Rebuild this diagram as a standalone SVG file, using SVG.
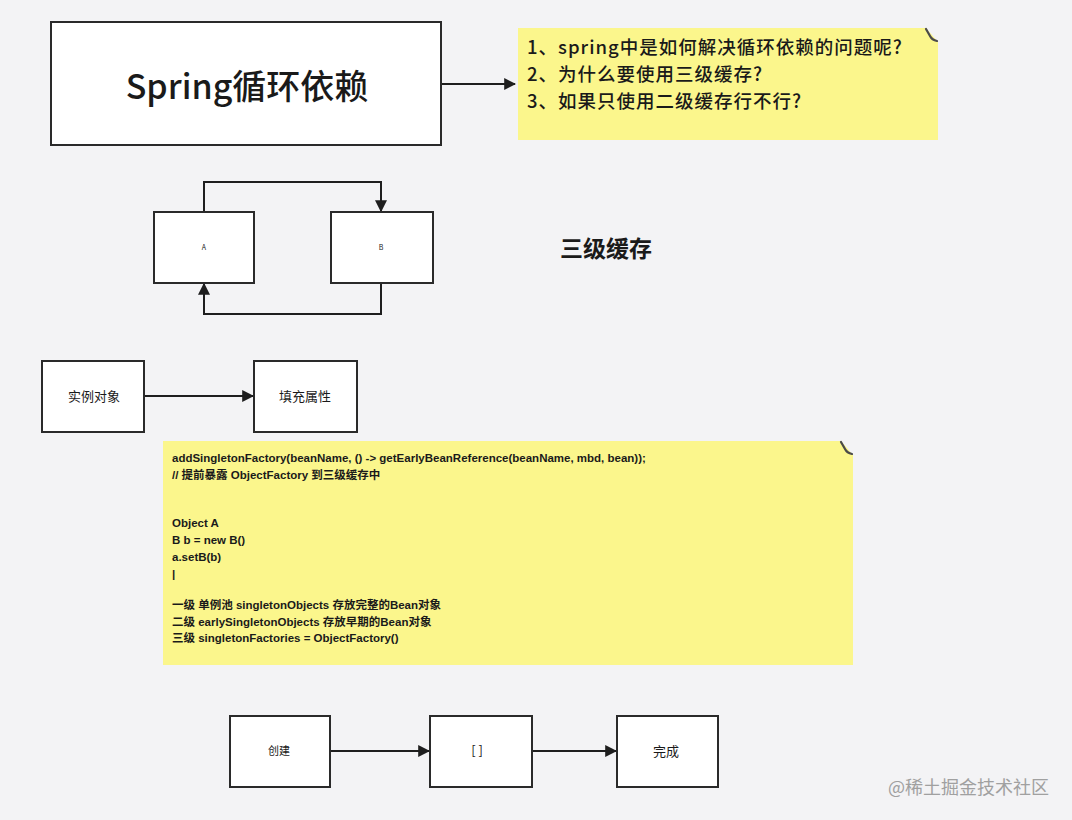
<svg xmlns="http://www.w3.org/2000/svg" width="1072" height="820" viewBox="0 0 1072 820">
<defs>
<style>
.box{fill:#ffffff;stroke:#2a2a2a;stroke-width:2}
.note{fill:#fbf68c}
.curl{fill:none;stroke:#4a4a4a;stroke-width:2.2;stroke-linecap:round}
.edge{fill:none;stroke:#1e1e1e;stroke-width:2}
.t{font-family:"Noto Sans CJK SC","Liberation Sans",sans-serif;fill:#1a1a1a}
.title{font-size:34px;text-anchor:middle;font-weight:500}
.q{font-size:18.5px;font-weight:500;letter-spacing:1px}
.code{font-family:"Liberation Sans","Noto Sans CJK SC",sans-serif;font-size:11.5px;font-weight:bold}
.lbl{font-size:13px;text-anchor:middle}
.wm{font-family:"Noto Sans CJK SC",sans-serif;font-size:18px;fill:#a0a0a0}
</style>
<marker id="arr" viewBox="0 0 10 10" refX="9" refY="5" markerWidth="6" markerHeight="6" orient="auto-start-reverse">
<path d="M0,0 L10,5 L0,10 z" fill="#1e1e1e"/>
</marker>
</defs>
<rect width="1072" height="820" fill="#f3f3f5"/>

<g id="edges">
<line class="edge" x1="441" y1="84" x2="515" y2="84" marker-end="url(#arr)"/>
<polyline class="edge" points="204,212 204,182 381,182 381,211" marker-end="url(#arr)"/>
<polyline class="edge" points="381,283 381,314 204,314 204,284" marker-end="url(#arr)"/>
<line class="edge" x1="144" y1="396" x2="253" y2="396" marker-end="url(#arr)"/>
<line class="edge" x1="330" y1="751" x2="429" y2="751" marker-end="url(#arr)"/>
<line class="edge" x1="532" y1="751" x2="616" y2="751" marker-end="url(#arr)"/>
</g>

<g id="title">
<rect class="box" x="51" y="22" width="390" height="123"/>
<text class="t title" x="247" y="99">Spring循环依赖</text>
</g>

<g id="questions">
<path class="note" d="M518,28 L926,28 L938,42 L938,140 L518,140 z"/>
<path class="curl" d="M926,29 L930,36 Q932,40 937,41"/>
<text class="t q" x="527" y="54">1、spring中是如何解决循环依赖的问题呢?</text>
<text class="t q" x="527" y="81">2、为什么要使用三级缓存?</text>
<text class="t q" x="527" y="108">3、如果只使用二级缓存行不行?</text>
</g>

<g id="beanA">
<rect class="box" x="154" y="212" width="100" height="71"/>
<text class="t lbl" x="204" y="250" style="font-size:7px">A</text>
</g>
<g id="beanB">
<rect class="box" x="331" y="212" width="102" height="71"/>
<text class="t lbl" x="381" y="250" style="font-size:7px">B</text>
</g>

<g id="cache-label">
<text class="t" x="560" y="257" style="font-size:23px;font-weight:bold">三级缓存</text>
</g>

<g id="step1">
<rect class="box" x="42" y="361" width="102" height="71"/>
<text class="t lbl" x="94" y="401">实例对象</text>
</g>
<g id="step2">
<rect class="box" x="254" y="361" width="103" height="71"/>
<text class="t lbl" x="305" y="401">填充属性</text>
</g>

<g id="code-note">
<path class="note" d="M163,441 L841,441 L853,455 L853,665 L163,665 z"/>
<path class="curl" d="M841,442 L845,449 Q847,453 852,454"/>
<text class="t code" x="172" y="462">addSingletonFactory(beanName, () -&gt; getEarlyBeanReference(beanName, mbd, bean));</text>
<text class="t code" x="172" y="479">// 提前暴露 ObjectFactory 到三级缓存中</text>
<text class="t code" x="172" y="527">Object A</text>
<text class="t code" x="172" y="544">B b = new B()</text>
<text class="t code" x="172" y="561">a.setB(b)</text>
<text class="t code" x="172" y="578">|</text>
<text class="t code" x="172" y="609">一级  单例池    singletonObjects 存放完整的Bean对象</text>
<text class="t code" x="172" y="626">二级 earlySingletonObjects 存放早期的Bean对象</text>
<text class="t code" x="172" y="642">三级 singletonFactories = ObjectFactory()</text>
</g>

<g id="flow1">
<rect class="box" x="230" y="716" width="100" height="71"/>
<text class="t lbl" x="279" y="755" style="font-size:11px">创建</text>
</g>
<g id="flow2">
<rect class="box" x="430" y="716" width="102" height="71"/>
<text class="t lbl" x="477" y="755">[ ]</text>
</g>
<g id="flow3">
<rect class="box" x="617" y="716" width="101" height="71"/>
<text class="t lbl" x="666" y="756">完成</text>
</g>

<text class="wm" x="888" y="794">@稀土掘金技术社区</text>
</svg>
